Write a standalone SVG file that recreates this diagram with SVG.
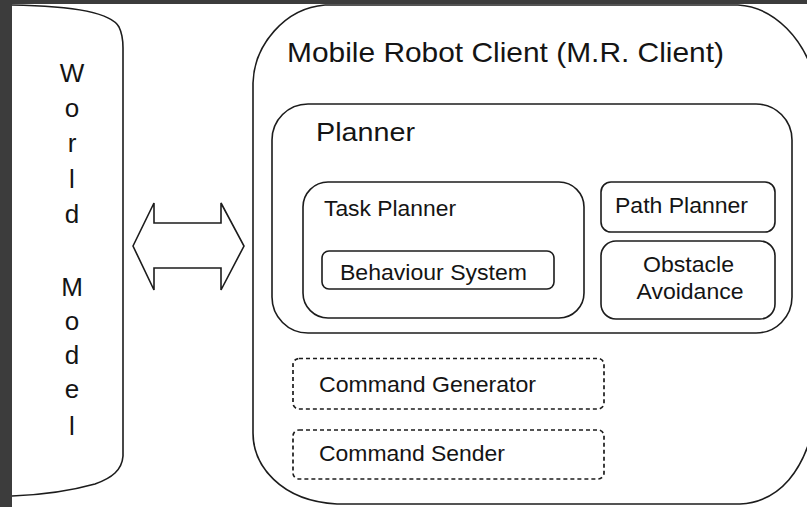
<svg xmlns="http://www.w3.org/2000/svg" width="807" height="507" viewBox="0 0 807 507">
  <style>
    .line { fill: none; stroke: #1c1c1c; stroke-width: 1.6; }
    .box { fill: #ffffff; stroke: #1c1c1c; stroke-width: 1.6; }
    .dash { fill: #ffffff; stroke: #1c1c1c; stroke-width: 1.7; stroke-dasharray: 4 3; }
    text { font-family: "Liberation Sans", Arial, sans-serif; fill: #141414; }
    .title { font-size: 28px; }
    .sub { font-size: 25px; }
    .lbl { font-size: 22px; }
    .vert { font-size: 26px; text-anchor: middle; }
  </style>

  <!-- page background and white sheet -->
  <rect x="0" y="0" width="807" height="507" fill="#3c3c3c"/>
  <rect x="12" y="4" width="795" height="503" fill="#ffffff"/>

  <!-- World Model block (left edge runs off the sheet) -->
  <g id="world-model">
    <path class="line" d="M12,5 C80,6 112,14 119,27 C122,33 123,38 123,48 L123,456 C122,470 112,478 95,484 C70,491 40,495 12,496"/>
    <text class="vert" x="72" y="82">W</text>
    <text class="vert" x="72" y="117">o</text>
    <text class="vert" x="72" y="152">r</text>
    <text class="vert" x="72" y="188">l</text>
    <text class="vert" x="72" y="223">d</text>
    <text class="vert" x="72" y="296">M</text>
    <text class="vert" x="72" y="330">o</text>
    <text class="vert" x="72" y="364">d</text>
    <text class="vert" x="72" y="398">e</text>
    <text class="vert" x="72" y="435">l</text>
  </g>

  <!-- two-way link between World Model and the client -->
  <g id="connectors">
    <polygon class="line" stroke-linejoin="miter" points="133,246 154,203 154,223 221,223 221,203 244,246 221,290 221,268 154,268 154,290"/>
  </g>

  <!-- Mobile Robot Client container (right edge runs off the sheet) -->
  <g id="mr-client">
    <path class="line" d="M325,5 L738,5 C775,7 805,40 815,80 L815,420 C805,470 780,502 740,504 L337,504 C280,501 253,465 253,433 L253,83 C254,45 285,8 325,5"/>
    <text class="title" x="287" y="62" textLength="437" lengthAdjust="spacingAndGlyphs">Mobile Robot Client (M.R. Client)</text>
  </g>

  <g id="planner">
    <rect class="box" x="272" y="104" width="520" height="229" rx="36" ry="36"/>
    <text class="sub" x="316" y="140.5" textLength="99" lengthAdjust="spacingAndGlyphs">Planner</text>
  </g>

  <g id="task-planner">
    <rect class="box" x="303" y="182" width="281" height="136" rx="25" ry="25"/>
    <text class="lbl" x="324" y="216" textLength="132" lengthAdjust="spacingAndGlyphs">Task Planner</text>
  </g>

  <g id="behaviour-system">
    <rect class="box" x="322" y="251" width="232" height="38" rx="7" ry="7"/>
    <text class="lbl" x="340" y="280" textLength="187" lengthAdjust="spacingAndGlyphs">Behaviour System</text>
  </g>

  <g id="path-planner">
    <rect class="box" x="601" y="182" width="174" height="50" rx="10" ry="10"/>
    <text class="lbl" x="615" y="213" textLength="133" lengthAdjust="spacingAndGlyphs">Path Planner</text>
  </g>

  <g id="obstacle-avoidance">
    <rect class="box" x="601" y="241" width="174" height="78" rx="15" ry="15"/>
    <text class="lbl" x="688.5" y="271.5" text-anchor="middle" textLength="91" lengthAdjust="spacingAndGlyphs">Obstacle</text>
    <text class="lbl" x="690" y="298.5" text-anchor="middle" textLength="107" lengthAdjust="spacingAndGlyphs">Avoidance</text>
  </g>

  <g id="command-generator">
    <rect class="dash" x="293" y="358.5" width="311" height="50.5" rx="6" ry="6"/>
    <text class="lbl" x="319" y="391.5" textLength="217" lengthAdjust="spacingAndGlyphs">Command Generator</text>
  </g>

  <g id="command-sender">
    <rect class="dash" x="293" y="430" width="311" height="49" rx="6" ry="6"/>
    <text class="lbl" x="319" y="460.5" textLength="186" lengthAdjust="spacingAndGlyphs">Command Sender</text>
  </g>
</svg>
